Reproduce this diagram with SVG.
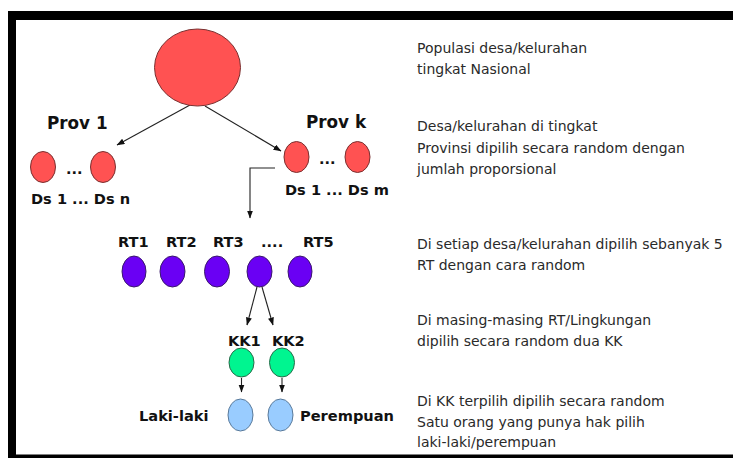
<svg xmlns="http://www.w3.org/2000/svg" width="733" height="458" viewBox="0 0 733 458">
<style>
.lbl{font-family:"DejaVu Sans",Verdana,sans-serif;font-weight:bold;font-size:14.6px;fill:#111}
.prov{font-size:16.8px}
.desc{font-family:"DejaVu Sans",Verdana,sans-serif;font-size:14px;fill:#2a2a2a}
.red{fill:#FF5252;stroke:#7a3030;stroke-width:1}
.pur{fill:#6A00F4;stroke:#3a1a6a;stroke-width:1}
.grn{fill:#00F590;stroke:#2a6a4a;stroke-width:1}
.blu{fill:#99CCFF;stroke:#5a7a9a;stroke-width:1}
.con{fill:none;stroke:#222;stroke-width:1.1}
</style>
<defs>
<marker id="ah" markerUnits="userSpaceOnUse" markerWidth="8" markerHeight="7" refX="7.5" refY="3" orient="auto">
<path d="M0,0 L8,3 L0,6 z" fill="#111"/>
</marker>
</defs>
<rect width="733" height="458" fill="#fff"/>
<g id="frame" fill="#000">
<rect x="8" y="11" width="725" height="9"/>
<rect x="8" y="11" width="8" height="447"/>
<rect x="8" y="454.5" width="725" height="3.5"/>
</g>
<g id="connectors" class="con" marker-end="url(#ah)">
<line x1="190" y1="105" x2="117" y2="145"/>
<line x1="205" y1="106" x2="281" y2="151"/>
<polyline points="275,168 250,168 250,218"/>
<line x1="257" y1="287" x2="247" y2="325"/>
<line x1="262" y1="287" x2="273" y2="325"/>
<line x1="241.5" y1="378" x2="241.5" y2="392"/>
<line x1="282" y1="378" x2="282" y2="392"/>
</g>
<g id="national"><ellipse class="red" cx="197.5" cy="67.5" rx="43" ry="38.5"/></g>
<g id="prov1">
<text class="lbl prov" x="47" y="129">Prov 1</text>
<ellipse class="red" cx="43" cy="167" rx="12.5" ry="15.5"/>
<text class="lbl" x="66" y="174">...</text>
<ellipse class="red" cx="103" cy="167" rx="12.5" ry="15.5"/>
<text class="lbl" x="31" y="204">Ds 1 ... Ds n</text>
</g>
<g id="provk">
<text class="lbl prov" x="306" y="128">Prov k</text>
<ellipse class="red" cx="296.5" cy="157" rx="12.5" ry="15.5"/>
<text class="lbl" x="319" y="164">...</text>
<ellipse class="red" cx="357.5" cy="157" rx="12.5" ry="15.5"/>
<text class="lbl" x="285" y="195">Ds 1 ... Ds m</text>
</g>
<g id="rt">
<text class="lbl" x="118" y="247">RT1</text>
<text class="lbl" x="166" y="247">RT2</text>
<text class="lbl" x="213" y="247">RT3</text>
<text class="lbl" x="261" y="247">....</text>
<text class="lbl" x="303" y="247">RT5</text>
<ellipse class="pur" cx="134" cy="271.5" rx="12" ry="15.5"/>
<ellipse class="pur" cx="172.5" cy="271.5" rx="12.5" ry="15.5"/>
<ellipse class="pur" cx="217" cy="271.5" rx="12.5" ry="15.5"/>
<ellipse class="pur" cx="259.5" cy="271.5" rx="12.5" ry="15.5"/>
<ellipse class="pur" cx="300" cy="271.5" rx="12" ry="15.5"/>
</g>
<g id="kk">
<text class="lbl" x="228" y="346">KK1</text>
<text class="lbl" x="272" y="346">KK2</text>
<ellipse class="grn" cx="241.5" cy="362.5" rx="12.5" ry="14.5"/>
<ellipse class="grn" cx="282" cy="362.5" rx="12.5" ry="14.5"/>
</g>
<g id="person">
<text class="lbl" x="139" y="421">Laki-laki</text>
<ellipse class="blu" cx="240.5" cy="415" rx="12.5" ry="16"/>
<ellipse class="blu" cx="280.5" cy="415" rx="12.5" ry="16"/>
<text class="lbl" x="300" y="421">Perempuan</text>
</g>
<g id="descriptions" class="desc">
<text x="417" y="52.5">Populasi desa/kelurahan</text>
<text x="417" y="73.5">tingkat Nasional</text>
<text x="417" y="131">Desa/kelurahan di tingkat</text>
<text x="417" y="152.5">Provinsi dipilih secara random dengan</text>
<text x="417" y="173.5">jumlah proporsional</text>
<text x="417" y="248.5">Di setiap desa/kelurahan dipilih sebanyak 5</text>
<text x="417" y="269.5">RT dengan cara random</text>
<text x="417" y="325">Di masing-masing RT/Lingkungan</text>
<text x="417" y="345.5">dipilih secara random dua KK</text>
<text x="417" y="406">Di KK terpilih dipilih secara random</text>
<text x="417" y="426.5">Satu orang yang punya hak pilih</text>
<text x="417" y="446.5">laki-laki/perempuan</text>
</g>
</svg>
